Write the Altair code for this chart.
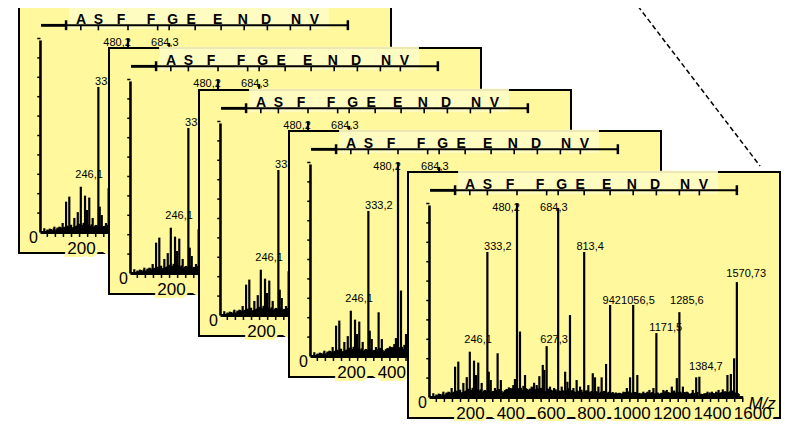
import altair as alt
import pandas as pd

# ---------------- data ----------------
peak_mz = [65, 115, 156, 173, 189, 214, 231, 246.1, 267, 277, 288, 305, 322, 333.2, 340, 350,
           371, 384, 400, 446, 462, 470, 480.2, 495, 520, 553, 565, 578, 591, 608, 616, 627.3,
           644, 664, 684.3, 702, 719, 730, 743, 760, 776, 793, 813.4, 834, 856, 867, 884, 900,
           922, 942, 975, 1008, 1025, 1041, 1056.5, 1077, 1107, 1137, 1157, 1171.5, 1206, 1223,
           1248, 1273, 1285.6, 1303, 1322, 1352, 1369, 1384.7, 1425, 1447, 1480, 1501, 1524,
           1541, 1557, 1570.73]
peak_int = [2.2, 3.0, 4.9, 15.9, 18.5, 7.5, 10.5, 23.6, 19.0, 11.6, 18.0, 7.5, 3.9, 75.0, 13.3, 9.0,
            4.9, 22.8, 9.0, 4.9, 6.4, 9.5, 100.0, 34.0, 11.6, 5.6, 7.6, 6.4, 11.0, 16.8, 14.2, 26.5,
            5.6, 4.9, 97.7, 5.6, 13.3, 8.1, 42.5, 4.9, 9.0, 5.6, 75.0, 6.4, 12.5, 10.4, 5.6, 10.4,
            17.3, 47.7, 2.2, 3.0, 4.9, 10.4, 47.7, 11.6, 3.0, 3.9, 4.9, 33.2, 3.9, 3.9,
            5.6, 10.0, 44.0, 5.6, 3.0, 3.9, 10.4, 10.7, 3.0, 3.0, 3.9, 4.2, 11.6,
            12.1, 20.2, 59.5]
noise_mz = [80, 92, 105, 130, 140, 150, 165, 180, 198, 205, 222, 238, 252, 260, 283, 295,
            312, 328, 345, 358, 365, 378, 392, 408, 415, 425, 432, 440, 455, 475, 488, 505,
            512, 530, 540, 548, 560, 572, 585, 598, 622, 635, 652, 672, 692, 710, 737, 752,
            768, 785, 800, 822, 845, 875, 892, 910, 930, 955, 965, 985, 995, 1015, 1033, 1048,
            1065, 1088, 1098, 1118, 1128, 1148, 1180, 1195, 1215, 1235, 1260, 1295, 1312, 1332,
            1342, 1360, 1395, 1410, 1436, 1458, 1468, 1490, 1512, 1532, 1550, 1580]
noise_int = [1.5, 2.0, 1.2, 2.5, 3.0, 2.2, 2.8, 3.5, 4.0, 2.6, 3.2, 4.5, 3.0, 5.0, 4.2, 3.6,
             2.8, 3.4, 4.0, 3.0, 2.6, 3.8, 4.4, 2.4, 3.0, 3.6, 4.2, 5.2, 4.6, 5.5, 4.8, 3.9,
             6.0, 4.4, 3.5, 4.0, 5.2, 3.6, 4.4, 5.0, 3.2, 4.6, 3.8, 4.2, 3.0, 3.4, 4.8, 3.6,
             2.8, 3.2, 4.0, 3.6, 2.6, 3.0, 2.4, 3.4, 2.2, 2.8, 1.8, 2.4, 2.0, 2.6, 3.0, 2.2,
             2.8, 2.4, 1.8, 2.2, 3.0, 2.6, 2.0, 2.4, 3.2, 2.6, 3.6, 2.2, 2.8, 1.6,
             2.0, 2.4, 1.8, 2.2, 2.6, 2.0, 3.0, 2.4, 3.2, 2.8, 3.6, 1.8]
noise2_mz = [86, 98, 111, 124, 135, 145, 160, 170, 185, 193, 210, 218, 227, 243, 256, 272,
             280, 292, 300, 317, 336, 355, 362, 368, 375, 388, 396, 404, 420, 428, 436, 444,
             450, 458, 466, 484, 500, 516, 525, 535, 544, 556, 568, 580, 595, 603, 612, 631,
             640, 648, 656, 668, 678, 688, 696, 706, 714, 724, 734, 748, 756, 764, 780, 790,
             798, 806, 818, 828, 840, 850, 862, 872, 880, 896, 905, 916, 928, 936, 950, 960,
             970, 980, 990, 1003, 1012, 1020, 1036, 1046, 1062, 1070, 1084, 1094, 1103, 1112,
             1124, 1133, 1143, 1152, 1165, 1178, 1188, 1200, 1211, 1228, 1240, 1254, 1266, 1280,
             1291, 1308, 1318, 1328, 1338, 1348, 1375, 1390, 1402, 1418, 1430, 1442, 1452, 1463,
             1475, 1485, 1495, 1506, 1518, 1528, 1537, 1546, 1564, 1576]
noise2_int = [1.2, 1.8, 2.0, 1.6, 2.4, 2.8, 2.2, 3.0, 2.6, 3.4, 2.8, 3.2, 3.6, 3.0, 4.0, 3.4,
              3.8, 3.0, 4.2, 3.6, 3.2, 2.8, 3.4, 3.0, 3.6, 3.2, 4.0, 3.4, 3.8, 4.4, 4.0, 4.8,
              4.2, 5.0, 4.6, 4.4, 5.0, 4.2, 4.8, 4.0, 4.6, 5.2, 4.4, 4.8, 4.0, 4.4, 3.8, 4.2,
              3.6, 4.0, 3.4, 3.8, 3.2, 3.6, 3.4, 3.8, 3.2, 3.6, 3.0, 3.4, 3.8, 3.2, 3.6, 3.0,
              3.4, 2.8, 3.2, 3.6, 3.0, 3.4, 2.8, 3.2, 2.6, 3.0, 2.8, 3.2, 2.6, 3.0, 2.4, 2.2,
              2.6, 2.0, 2.4, 2.2, 2.6, 2.8, 3.0, 2.6, 2.4, 2.8, 2.2, 2.0, 2.4, 2.2, 2.6,
              2.0, 2.4, 2.8, 2.2, 2.6, 2.0, 2.4, 2.2, 2.8, 2.4, 3.0, 2.6, 2.8, 3.0, 2.4,
              2.2, 2.6, 2.0, 2.4, 2.8, 2.0, 1.8, 2.2, 1.6, 2.0, 2.4, 2.2, 2.6, 2.4, 2.8,
              2.6, 3.0, 2.8, 3.2, 3.0, 2.6, 2.2]

label_text = ["246,1", "333,2", "480,2", "627,3", "684,3", "813,4", "942", "1056,5",
              "1171,5", "1285,6", "1384,7", "1570,73"]
label_mz = [287, 385, 426, 664, 663, 843, 950, 1080, 1218, 1323, 1417, 1617]
label_int = [29.6, 77.7, 97.8, 29.6, 97.8, 77.7, 49.7, 49.7, 35.8, 49.7, 15.9, 63.7]

seq_letters = ["A", "S", "F", "F", "G", "E", "E", "N", "D", "N", "V"]
seq_mz = [247, 333, 446, 595, 702, 793, 925, 1050, 1165, 1314, 1405]
ladder_mz = [246.1, 333.2, 480.2, 627.3, 684.3, 813.4, 942, 1056.5, 1171.5, 1285.6, 1384.7]
ladder_start, ladder_first, ladder_end = 49, 173, 1570.73

x_tick_labels = [200, 400, 600, 800, 1000, 1200, 1400, 1600]
x_minor_ticks = list(range(80, 1601, 40))
y_ticks = [10, 20, 30, 40, 50, 60, 70, 80, 90, 100]

callout_mz = [1056, 1686]
callout_int = [205, 119.3]

# ---------------- layout / style ----------------
YELLOW = "#fff89c"
FONT = "Liberation Sans"
PANEL_W, PANEL_H = 372, 246
PANEL_ORIGINS = [(11, -1), (101, 40), (191, 82), (281, 123), (400, 164)]
X_DOMAIN = [-60.5, 1784.7]
Y_DOMAIN = [-10.57, 116.24]
AXIS_MZ, AXIS_END = 46, 1602
LADDER_Y, LETTER_Y = 106.8, 109.5

n2 = min(len(noise2_mz), len(noise2_int))
spec_df = pd.DataFrame({"mz": peak_mz + noise_mz + noise2_mz[:n2],
                        "inten": peak_int + noise_int + noise2_int[:n2]})
spec_df["base"] = 0.0

frame_df = pd.DataFrame({"x": [X_DOMAIN[0]], "x2": [X_DOMAIN[1]], "y": [Y_DOMAIN[0]], "y2": [Y_DOMAIN[1]]})
cover_df = pd.DataFrame({"x": [188], "x2": [1477], "y": [104.9], "y2": [116.9]})

rules = []
rules.append((AXIS_MZ, AXIS_END, 0, 0, 3))
rules.append((AXIS_MZ, AXIS_MZ, 0, 99, 2.6))
for t in y_ticks:
    rules.append((30, AXIS_MZ, t, t, 1.5))
for t in x_minor_ticks:
    rules.append((t, t, 0, -2.3, 1.5))
rules.append((ladder_start, ladder_end, LADDER_Y, LADDER_Y, 2))
rules.append((ladder_start, ladder_first, LADDER_Y, LADDER_Y, 2.8))
rules.append((ladder_first, ladder_first, 104.3, 109.4, 2.5))
rules.append((ladder_end, ladder_end, 104.3, 109.4, 2.5))
for m in ladder_mz:
    rules.append((m, m, 104.2, LADDER_Y, 1.6))
rules_df = pd.DataFrame(rules, columns=["x", "x2", "y", "y2", "w"])

labels_df = pd.DataFrame({"mz": label_mz, "inten": label_int, "t": label_text})
seq_df = pd.DataFrame({"mz": seq_mz, "inten": [LETTER_Y] * len(seq_mz), "t": seq_letters})
ticklab_df = pd.DataFrame({"mz": x_tick_labels, "inten": [-8.5] * len(x_tick_labels),
                           "t": [str(v) for v in x_tick_labels]})
zero_df = pd.DataFrame({"mz": [11], "inten": [-3.0], "t": ["0"]})
mz_df = pd.DataFrame({"mz": [1696], "inten": [-3.4], "t": ["M/z"]})
callout_df = pd.DataFrame({"x": [callout_mz[0]], "x2": [callout_mz[1]],
                           "y": [callout_int[0]], "y2": [callout_int[1]]})


def panel_layers(ox, oy, extra=False):
    xs = alt.Scale(domain=X_DOMAIN, range=[ox, ox + PANEL_W], nice=False, zero=False)
    ys = alt.Scale(domain=Y_DOMAIN, range=[oy + PANEL_H, oy], nice=False, zero=False)

    def ex(f):
        return alt.X(f, type="quantitative", scale=xs, axis=None)

    def ey(f):
        return alt.Y(f, type="quantitative", scale=ys, axis=None)

    out = []
    out.append(alt.Chart(frame_df).mark_rect(fill=YELLOW, stroke="black", strokeWidth=2)
               .encode(x=ex("x"), x2="x2", y=ey("y"), y2="y2"))
    out.append(alt.Chart(cover_df).mark_rect(fill="#fffcc4", opacity=0.92)
               .encode(x=ex("x"), x2="x2", y=ey("y"), y2="y2"))
    out.append(alt.Chart(spec_df).mark_rule(color="black", strokeWidth=2.2)
               .encode(x=ex("mz"), y=ey("base"), y2="inten"))
    out.append(alt.Chart(rules_df).mark_rule(color="black")
               .encode(x=ex("x"), x2="x2", y=ey("y"), y2="y2",
                       strokeWidth=alt.StrokeWidth("w:Q", scale=None)))
    out.append(alt.Chart(ticklab_df).mark_text(font=FONT, fontSize=17, dx=10, stroke=YELLOW,
                                              strokeWidth=6, fill=YELLOW)
               .encode(x=ex("mz"), y=ey("inten"), text="t:N"))
    out.append(alt.Chart(ticklab_df).mark_text(font=FONT, fontSize=17, dx=10, color="black")
               .encode(x=ex("mz"), y=ey("inten"), text="t:N"))
    out.append(alt.Chart(zero_df).mark_text(font=FONT, fontSize=16, color="black")
               .encode(x=ex("mz"), y=ey("inten"), text="t:N"))
    out.append(alt.Chart(mz_df).mark_text(font=FONT, fontSize=17, fontStyle="italic", color="black")
               .encode(x=ex("mz"), y=ey("inten"), text="t:N"))
    out.append(alt.Chart(labels_df).mark_text(font=FONT, fontSize=11, color="black")
               .encode(x=ex("mz"), y=ey("inten"), text="t:N"))
    out.append(alt.Chart(seq_df).mark_text(font=FONT, fontSize=14, fontWeight="bold", color="black")
               .encode(x=ex("mz"), y=ey("inten"), text="t:N"))
    if extra:
        out.append(alt.Chart(callout_df).mark_rule(color="black", strokeWidth=1.5, strokeDash=[5, 3])
                   .encode(x=ex("x"), x2="x2", y=ey("y"), y2="y2"))
    return out


layers = []
for i, (ox, oy) in enumerate(PANEL_ORIGINS):
    layers += panel_layers(ox, oy, extra=(i == len(PANEL_ORIGINS) - 1))

chart = (
    alt.layer(*layers)
    .resolve_scale(x="independent", y="independent")
    .properties(width=773, height=413, padding=0, autosize=alt.AutoSizeParams(type="none"),
                background="white")
    .configure_view(stroke=None)
)

chart.save("out.html", embed_options={"renderer": "svg", "actions": False})
